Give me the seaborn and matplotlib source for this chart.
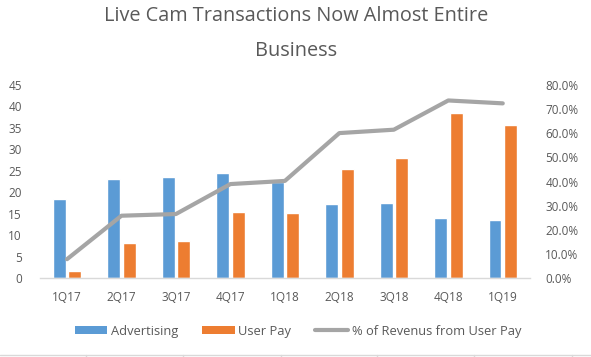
import matplotlib
matplotlib.use("Agg")
import matplotlib.pyplot as plt
import seaborn as sns
import pandas as pd
import numpy as np
from matplotlib.patches import Patch
from matplotlib.lines import Line2D
from matplotlib.ticker import FuncFormatter, MultipleLocator

quarters = ['1Q17', '2Q17', '3Q17', '4Q17', '1Q18', '2Q18', '3Q18', '4Q18', '1Q19']
advertising = [18.5, 23.1, 23.6, 24.5, 22.5, 17.3, 17.5, 14.1, 13.6]
user_pay = [1.7, 8.2, 8.7, 15.5, 15.2, 25.5, 28.0, 38.5, 35.7]
pct_user_pay = [7.9, 25.9, 26.6, 39.0, 40.3, 60.1, 61.5, 73.6, 72.4]

series_names = ['Advertising', 'User Pay', '% of Revenus from User Pay']
title = 'Live Cam Transactions Now Almost Entire\nBusiness'

BLUE = '#5B9BD5'
ORANGE = '#ED7D31'
GREY = '#A5A5A5'
TXT = '#595959'

sns.set_theme(style='white')
plt.rcParams['font.family'] = ['Open Sans', 'DejaVu Sans']

df = pd.DataFrame({
    'quarter': quarters * 2,
    'value': advertising + user_pay,
    'series': [series_names[0]] * len(quarters) + [series_names[1]] * len(quarters),
})
df_line = pd.DataFrame({'quarter': quarters, 'pct': pct_user_pay})

fig = plt.figure(figsize=(5.91, 3.57), dpi=100)
ax = fig.add_axes([39.75 / 591, 1 - 278.3 / 357, (530 - 39.75) / 591, (278.3 - 85) / 357])

sns.barplot(data=df, x='quarter', y='value', hue='series', order=quarters,
            palette=[BLUE, ORANGE], width=0.57, gap=0.165, ax=ax,
            legend=False, saturation=1, errorbar=None)

ax2 = ax.twinx()
sns.pointplot(data=df_line, x='quarter', y='pct', order=quarters, color=GREY,
              markers='', linestyles='-', ax=ax2, errorbar=None, linewidth=3)

n = len(quarters)
for a in (ax, ax2):
    a.set_xlim(-0.5, n - 0.5)
    for s in a.spines.values():
        s.set_visible(False)
    a.grid(False)
    a.set_xlabel('')
    a.set_ylabel('')

ax.set_ylim(0, 45)
ax.yaxis.set_major_locator(MultipleLocator(5))
ax2.set_ylim(0, 80)
ax2.yaxis.set_major_locator(MultipleLocator(10))
ax2.yaxis.set_major_formatter(FuncFormatter(lambda v, p: f'{v:.1f}%'))

ax.spines['bottom'].set_visible(True)
ax.spines['bottom'].set_color('#D9D9D9')
ax.spines['bottom'].set_linewidth(1)

fs = 8.5
ax.tick_params(axis='y', length=0, pad=13, labelsize=fs, labelcolor=TXT)
ax.tick_params(axis='x', length=0, pad=9, labelsize=fs, labelcolor=TXT)
ax2.tick_params(axis='y', length=0, pad=11, labelsize=fs, labelcolor=TXT)
ax2.tick_params(axis='x', length=0, labelbottom=False)
ax.set_xticks(range(n))
ax.set_xticklabels(quarters)

fig.suptitle(title, x=296 / 591, y=1 - 33.5 / 357, fontsize=14.3, color=TXT,
             va='center', linespacing=1.95)

handles = [Patch(facecolor=BLUE, edgecolor='none'),
           Patch(facecolor=ORANGE, edgecolor='none'),
           Line2D([], [], color=GREY, linewidth=3)]
fig.legend(handles, series_names, loc='center', bbox_to_anchor=(298 / 591, 1 - 331 / 357),
           ncol=3, frameon=False, fontsize=9.3, labelcolor=TXT,
           handlelength=2.5, handleheight=0.55, handletextpad=0.3, columnspacing=1.85)

# spreadsheet cell border at the bottom edge
fig.add_artist(Line2D([0, 1], [1 - 354.5 / 357] * 2, transform=fig.transFigure,
                      color='#D9D9D9', linewidth=1))
for xc in [86, 183, 281, 377, 474, 572]:
    fig.add_artist(Line2D([xc / 591] * 2, [0, 1 - 354.5 / 357], transform=fig.transFigure,
                          color='#D9D9D9', linewidth=1))

fig.savefig('out.png', dpi=100)
